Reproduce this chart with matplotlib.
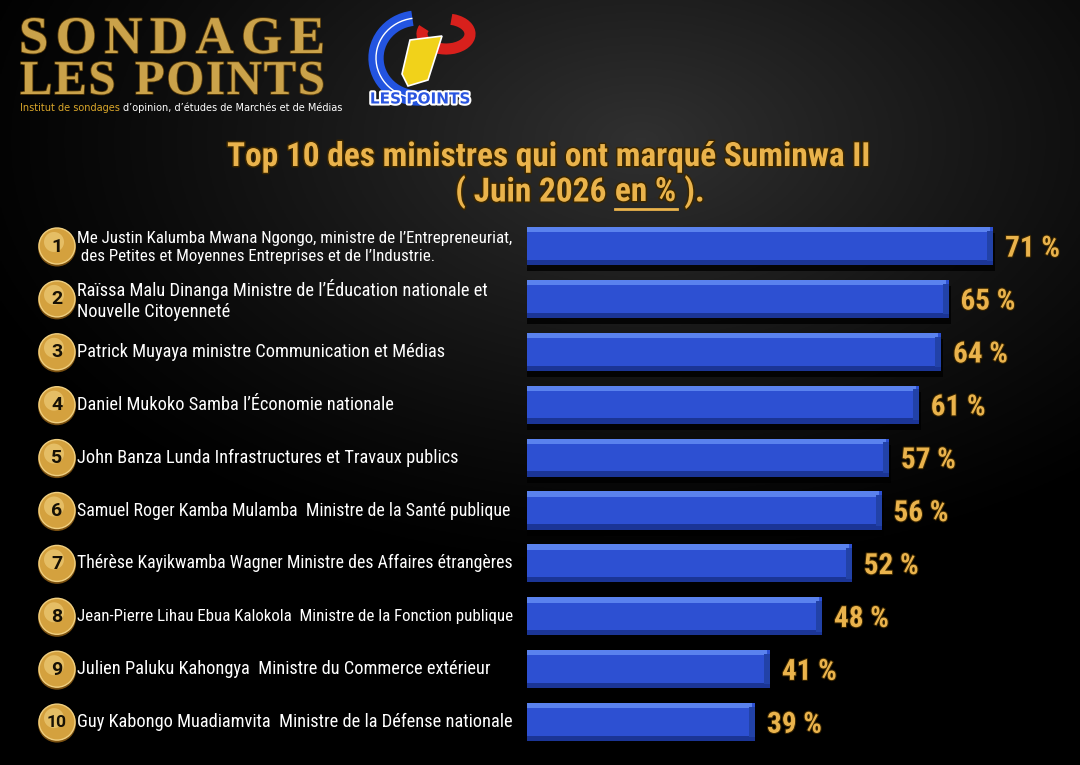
import numpy as np
import matplotlib
matplotlib.use("Agg")
import matplotlib.pyplot as plt
from matplotlib import font_manager
from matplotlib.patches import Circle, Arc, Polygon
import matplotlib.patheffects as pe

# ---------------- data ----------------
ranks = [1, 2, 3, 4, 5, 6, 7, 8, 9, 10]
labels = [
    "Me Justin Kalumba Mwana Ngongo, ministre de l\u2019Entrepreneuriat,\n des Petites et Moyennes Entreprises et de l\u2019Industrie.",
    "Raïssa Malu Dinanga Ministre de l\u2019Éducation nationale et\nNouvelle Citoyenneté",
    "Patrick Muyaya ministre Communication et Médias",
    "Daniel Mukoko Samba l\u2019Économie nationale",
    "John Banza Lunda Infrastructures et Travaux publics",
    "Samuel Roger Kamba Mulamba  Ministre de la Santé publique",
    "Thérèse Kayikwamba Wagner Ministre des Affaires étrangères",
    "Jean-Pierre Lihau Ebua Kalokola  Ministre de la Fonction publique",
    "Julien Paluku Kahongya  Ministre du Commerce extérieur",
    "Guy Kabongo Muadiamvita  Ministre de la Défense nationale",
]
values = [71, 65, 64, 61, 57, 56, 52, 48, 41, 39]
title_line1 = "Top 10 des ministres qui ont marqué Suminwa II"
title_line2_parts = ["( Juin 2026 ", "en %", " )."]

# ---------------- fonts ----------------
names = {f.name for f in font_manager.fontManager.ttflist}
def pick(cands):
    for c in cands:
        if c in names:
            return c
    return "DejaVu Sans"
narrow = pick(["Liberation Sans Narrow", "Roboto Condensed", "Open Sans Condensed", "Roboto", "Liberation Sans"])
serif = pick(["Liberation Serif", "DejaVu Serif"])
sans = pick(["Roboto", "Liberation Sans", "DejaVu Sans"])

GOLD = "#eab34c"

W, H = 1080, 765
fig = plt.figure(figsize=(W / 100, H / 100), dpi=100)
fig.patch.set_facecolor("black")
renderer = fig.canvas.get_renderer()

def px_width(t):
    bb = t.get_window_extent(renderer=renderer)
    return bb.width

# background axes in pixel coordinates
bg = fig.add_axes([0, 0, 1, 1])
bg.set_xlim(0, W)
bg.set_ylim(H, 0)
bg.axis("off")
yy, xx = np.mgrid[0:H:2, 0:W:2]
r = np.sqrt(((xx - 640) / 720.0) ** 2 + ((yy - 140) / 440.0) ** 2)
g = 0.19 * np.clip(1 - r, 0, 1) ** 1.2
img = np.dstack([g, g, g])
bg.imshow(img, extent=[0, W, H, 0], zorder=0, aspect="auto")

# ---- logo text (letters spread to the reference width) ----
gold_fx = [pe.withStroke(linewidth=1.2, foreground="#5a3d0a")]
def spread_word(word, x0, x1, y, size):
    ts = [bg.text(0, y, ch, fontsize=size, family=serif, weight="bold", color="#caa24a",
                  va="center", ha="left", path_effects=gold_fx) for ch in word]
    ws = [px_width(t) if ch != " " else size * 0.45 for t, ch in zip(ts, word)]
    gap = (x1 - x0 - sum(ws)) / max(len(word) - 1, 1)
    x = x0
    for t, w in zip(ts, ws):
        t.set_x(x)
        x += w + gap

spread_word("SONDAGE", 19, 325, 40, 38)
spread_word("LES POINTS", 20, 325, 82, 35)
t1 = bg.text(20, 108, "Institut de sondages", fontsize=7, color="#d9a62a", va="center", ha="left")
w1 = px_width(t1)
bg.text(20 + w1 + 3, 108, "d\u2019opinion, d\u2019études de Marchés et de Médias", fontsize=7,
        color="white", va="center", ha="left")

# ---- logo emblem ----
bg.add_patch(Arc((418, 58), 84, 80, theta1=75, theta2=262, lw=11, color="#2354e0", zorder=3))
bg.add_patch(Arc((418, 58), 84, 80, theta1=75, theta2=262, lw=1, color="white", zorder=3))
bg.add_patch(Arc((446, 34), 48, 30, theta1=-70, theta2=195, lw=8, color="#d8201c", zorder=3))
bg.add_patch(Polygon([[410, 40], [442, 36], [428, 80], [408, 86], [402, 74]], closed=True,
                     facecolor="#f1d21a", edgecolor="white", lw=1.2, zorder=3))
bg.text(420, 99, "LES POINTS", fontsize=11, weight="bold", color="#2a55e0", ha="center", va="center",
        path_effects=[pe.withStroke(linewidth=3, foreground="white")], zorder=4)

# ---- title ----
tfx = [pe.withStroke(linewidth=2.2, foreground="#3a2600")]
tsize = 24
bg.text(550, 157, title_line1, fontsize=tsize, family=narrow, weight="bold", color=GOLD,
        ha="center", va="center", path_effects=tfx)
parts = [bg.text(0, 192, p, fontsize=tsize, family=narrow, weight="bold", color=GOLD,
                 ha="left", va="center", path_effects=tfx) for p in title_line2_parts]
pw = [px_width(p) for p in parts]
x = 580 - sum(pw) / 2
for p, w in zip(parts, pw):
    p.set_x(x)
    x += w
ux0 = 580 - sum(pw) / 2 + pw[0]
bg.plot([ux0, ux0 + pw[1]], [209, 209], color=GOLD, lw=2)

# ---- row labels & badges ----
row0, step = 246, 52.9
max_w = 436
for i, (rk, lab) in enumerate(zip(ranks, labels)):
    y = row0 + step * i
    bg.add_patch(Circle((57, y + 1.5), 19, facecolor="#7a5010", edgecolor="none", zorder=2))
    bg.add_patch(Circle((57, y), 18, facecolor="#d4a13e", edgecolor="#f0cf80", lw=1, zorder=3))
    bg.add_patch(Circle((54, y - 4), 10, facecolor="#f4d687", edgecolor="none", alpha=0.55, zorder=3))
    bg.text(57, y + 0.5, str(rk), fontsize=14 if rk < 10 else 12.5, family=sans, weight="bold",
            color="#171105", ha="center", va="center", zorder=4)
    fs = 13.2
    t = bg.text(77, y + (1 if "\n" in lab else 0), lab, fontsize=fs, family=narrow, color="white",
                ha="left", va="center", linespacing=1.25, zorder=4)
    w = px_width(t)
    if w > max_w:
        t.set_fontsize(fs * max_w / w)

# ---- bars ----
x0_px = 527
ax = fig.add_axes([x0_px / W, 0, 1 - x0_px / W, 1])
ax.set_facecolor("none")
ax.axis("off")
zero_px, per = 465.0, 7.44
ax.set_xlim((x0_px - zero_px) / per, (W - zero_px) / per)
ax.set_ylim((H - row0) / step, -row0 / step)

idx = np.arange(len(values))
vals = np.array(values, dtype=float)
h = 0.72
ax.barh(idx + 0.12, vals + 0.3, height=h, color="black", alpha=0.8, zorder=1)
ax.barh(idx, vals, height=h, color="#2d50d2", zorder=2)
ax.barh(idx - h / 2 + 0.05, vals - 0.4, height=0.10, color="#5a82ee", zorder=3)
ax.barh(idx + h / 2 - 0.05, vals, height=0.10, color="#1b3596", zorder=3)
ax.barh(idx, np.full_like(vals, 0.8), left=vals - 0.8, height=h * 0.8, color="#2242a8", zorder=3)

for i, v in enumerate(values):
    ax.text(v + 1.6, i + 0.05, f"{v} %", fontsize=21, family=narrow, weight="bold", color=GOLD,
            ha="left", va="center", path_effects=[pe.withStroke(linewidth=1.5, foreground="#3a2600")])

fig.savefig("out.png", dpi=100, facecolor="black")
